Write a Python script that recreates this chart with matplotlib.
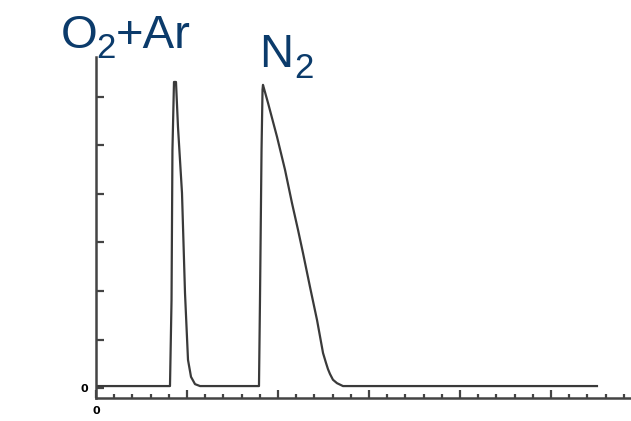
import numpy as np
import matplotlib.pyplot as plt

# chromatogram trace (time units, signal units)
t = [0.0, 0.813, 0.83, 0.84, 0.857, 0.879, 0.901, 0.945, 0.978, 1.011, 1.044, 1.088, 1.143,
     1.791, 1.802, 1.819, 1.830, 1.835, 1.890, 1.989, 2.077, 2.154, 2.220, 2.275,
     2.352, 2.429, 2.495, 2.527, 2.549, 2.571, 2.604, 2.648, 2.714, 5.505]
signal = [0.04, 0.04, 1.81, 4.9, 6.31, 6.31, 5.38, 4.02, 1.96, 0.58, 0.23, 0.08, 0.04,
          0.04, 1.81, 4.9, 6.15, 6.25, 5.88, 5.18, 4.50, 3.81, 3.26, 2.78,
          2.08, 1.40, 0.72, 0.52, 0.39, 0.29, 0.17, 0.10, 0.04, 0.04]

W, H = 631, 421
fig = plt.figure(figsize=(W/100, H/100), dpi=100)
ax = fig.add_axes([96/W, 23/H, 535/W, 341/H])

ax.plot(t, signal, color='#3a3a3a', lw=1.6)

ax.set_xlim(0, 535/91)
ax.set_ylim(-10/48.5, 331/48.5)

for s in ['top', 'right']:
    ax.spines[s].set_visible(False)
for s in ['left', 'bottom']:
    ax.spines[s].set_color('#444444')
    ax.spines[s].set_linewidth(1.8)

ax.set_yticks(range(7))
ax.set_yticklabels(['0'] + [''] * 6, fontsize=8, fontweight='bold')
ax.set_xticks(range(6))
ax.set_xticklabels(['0'] + [''] * 5, fontsize=8, fontweight='bold')
ax.set_xticks(np.arange(0, 5.9, 0.2), minor=True)
ax.tick_params(axis='both', which='major', direction='in', length=6, width=1.6,
               color='#444444', pad=6)
ax.tick_params(axis='x', which='minor', direction='in', length=3, width=1.6,
               color='#444444')

# peak names, pieces placed by pixel (x, baseline y from top)
blue = '#0b3b6b'
labels = [('O', 61, 48, 34), ('2', 96, 58, 25), ('+Ar', 116, 48, 34),
          ('N', 259.5, 67, 34), ('2', 294, 78, 25)]
for s, x, y, fs in labels:
    fig.text(x/W, 1 - y/H, s, fontsize=fs, color=blue, family='Liberation Sans',
             ha='left', va='baseline')

fig.savefig('out.png', dpi=100)
